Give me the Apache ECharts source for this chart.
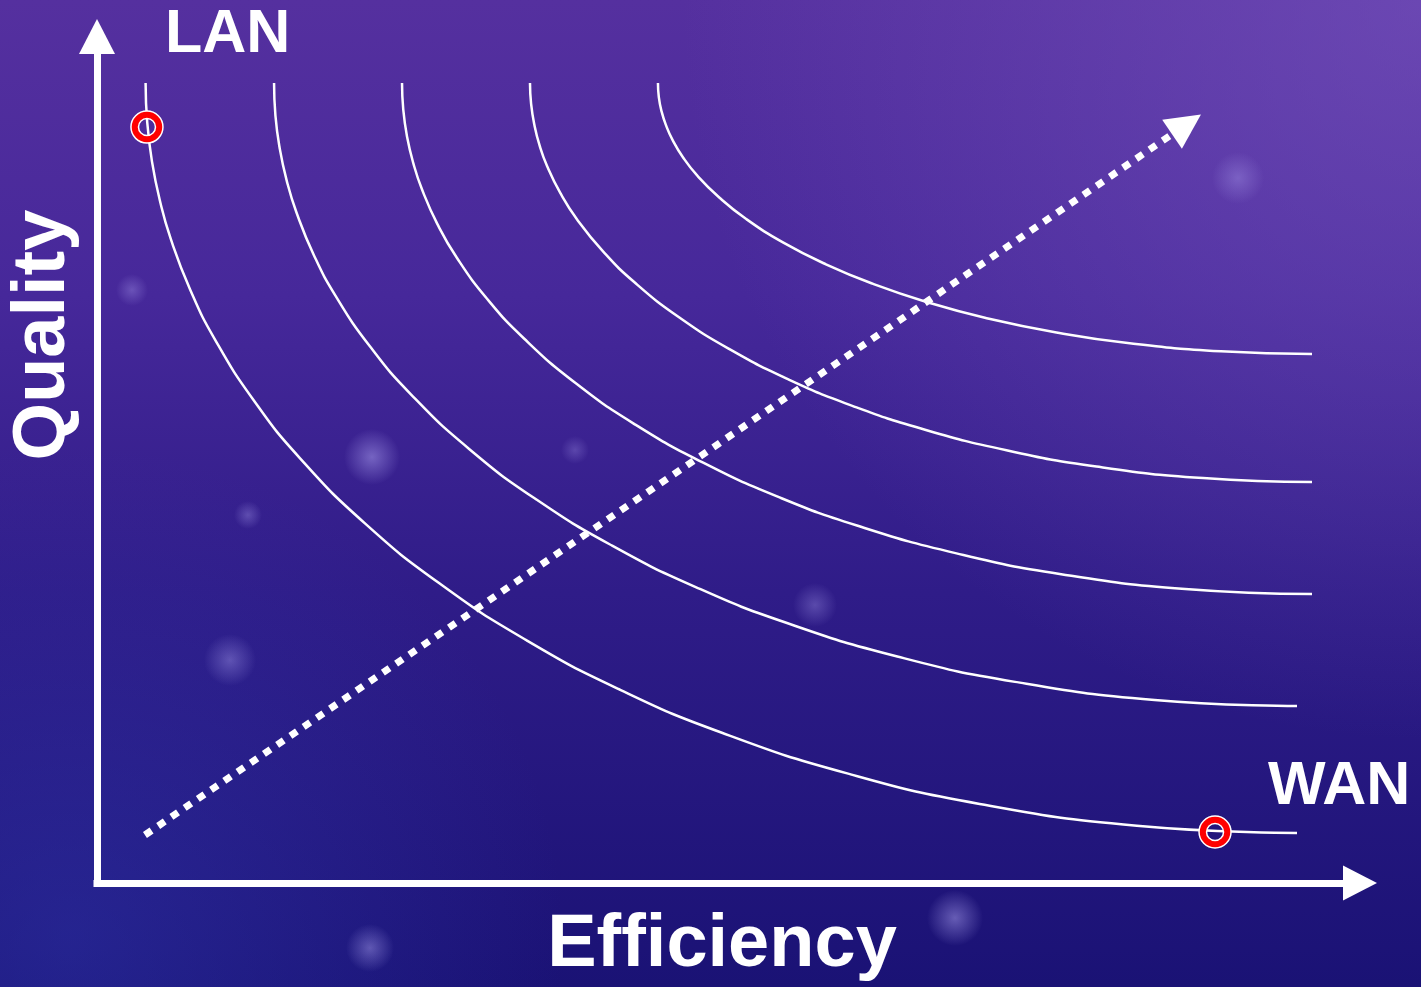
<!DOCTYPE html>
<html>
<head>
<meta charset="utf-8">
<style>
html,body{margin:0;padding:0;background:#3a2390;overflow:hidden;}
#c{width:1421px;height:987px;}
</style>
<script src="https://cdn.jsdelivr.net/npm/echarts@6/dist/echarts.min.js"></script>
</head>
<body>
<div id="c"></div>
<script>
// Indifference curves (Efficiency, Quality)
const curve1 = [[3.90,96.50],[4.03,91.77],[4.41,87.05],[5.04,82.35],[5.92,77.69],[7.48,71.57],[9.47,65.56],[12.56,58.27],[16.28,51.26],[21.55,43.32],[27.64,35.97],[34.48,29.27],[41.99,23.31],[50.10,18.15],[60.21,13.22],[70.84,9.53],[83.45,6.91],[96.31,6.03]];
const curve2 = [[14.21,96.50],[14.32,92.57],[14.66,88.65],[15.22,84.75],[16.01,80.88],[17.39,75.79],[19.16,70.80],[21.90,64.74],[25.21,58.92],[29.89,52.33],[35.30,46.22],[41.38,40.66],[48.05,35.70],[55.26,31.42],[64.23,27.32],[73.68,24.26],[84.88,22.08],[96.31,21.35]];
const curve3 = [[24.48,96.50],[24.58,93.28],[24.88,90.06],[25.38,86.86],[26.08,83.68],[27.31,79.51],[28.88,75.42],[31.32,70.45],[34.27,65.68],[38.43,60.27],[43.24,55.26],[48.65,50.70],[54.58,46.63],[60.99,43.12],[68.98,39.76],[77.38,37.25],[87.34,35.46],[97.51,34.86]];
const curve4 = [[34.75,96.50],[34.84,93.98],[35.10,91.47],[35.52,88.97],[36.12,86.49],[37.18,83.24],[38.53,80.04],[40.63,76.16],[43.16,72.43],[46.74,68.21],[50.87,64.30],[55.52,60.73],[60.62,57.56],[66.13,54.82],[72.99,52.20],[80.21,50.23],[88.77,48.84],[97.51,48.37]];
const curve5 = [[45.02,96.50],[45.09,94.79],[45.31,93.08],[45.67,91.39],[46.17,89.70],[47.05,87.49],[48.18,85.32],[49.94,82.69],[52.05,80.15],[55.05,77.28],[58.50,74.63],[62.39,72.21],[66.66,70.05],[71.26,68.19],[77.00,66.41],[83.04,65.07],[90.20,64.13],[97.51,63.81]];
const lanPoint = [4.01, 91.19];
const wanPoint = [89.73, 6.15];
const trendLine = [[3.85, 5.79], [87.44, 91.50]];
const labelLAN = 'LAN';
const labelWAN = 'WAN';
const axisNameX = 'Efficiency';
const axisNameY = 'Quality';

const chart = echarts.init(document.getElementById('c'), null, {renderer: 'canvas'});
const FONT = '"Liberation Sans", Arial, Helvetica, sans-serif';

function curveSeries(data) {
  return {
    type: 'line', data: data, smooth: 0.5, showSymbol: false, silent: true,
    lineStyle: {color: '#ffffff', width: 2.5}, z: 2,
    emphasis: {disabled: true}
  };
}
function ring(pt, color, size, width, z) {
  return {
    type: 'scatter', data: [pt], symbol: 'circle', symbolSize: size, silent: true, z: z,
    itemStyle: {color: 'rgba(0,0,0,0)', borderColor: color, borderWidth: width, opacity: 1},
    emphasis: {disabled: true}
  };
}
function glow(x, y, r, a) {
  return {
    type: 'circle', shape: {cx: x, cy: y, r: r}, z: -5, silent: true,
    style: {fill: new echarts.graphic.RadialGradient(0.5, 0.5, 0.5, [
      {offset: 0, color: 'rgba(190,180,255,' + a + ')'},
      {offset: 1, color: 'rgba(190,180,255,0)'}
    ])}
  };
}

const option = {
  animation: false,
  backgroundColor: {
    type: 'linear', x: 0, y: 0, x2: 0, y2: 1,
    colorStops: [
      {offset: 0, color: '#55309f'},
      {offset: 0.3, color: '#46289a'},
      {offset: 0.6, color: '#2f1c88'},
      {offset: 1, color: '#1a1275'}
    ]
  },
  grid: {left: 97, right: 78, top: 54, bottom: 104},
  xAxis: {
    type: 'value', min: 0, max: 100,
    splitLine: {show: false}, axisTick: {show: false}, axisLabel: {show: false},
    axisLine: {show: true, onZero: false, symbol: ['none', 'triangle'], symbolSize: [35, 34], symbolOffset: [0, 17],
      lineStyle: {color: '#ffffff', width: 7, cap: 'square'}}
  },
  yAxis: {
    type: 'value', min: 0, max: 100,
    splitLine: {show: false}, axisTick: {show: false}, axisLabel: {show: false},
    axisLine: {show: true, onZero: false, symbol: ['none', 'triangle'], symbolSize: [36, 35], symbolOffset: [0, 17.5],
      lineStyle: {color: '#ffffff', width: 7, cap: 'square'}}
  },
  series: [
    curveSeries(curve1), curveSeries(curve2), curveSeries(curve3), curveSeries(curve4), curveSeries(curve5),
    {
      type: 'line', data: [], silent: true, z: 3,
      markLine: {
        silent: true, animation: false,
        symbol: ['none', 'triangle'], symbolSize: [35, 35],
        label: {show: false},
        lineStyle: {color: '#ffffff', width: 7, type: [8, 8], cap: 'butt', opacity: 1},
        emphasis: {disabled: true},
        data: [[{coord: trendLine[0]}, {coord: trendLine[1]}]]
      }
    },
    ring(lanPoint, '#ffffff', 24.5, 9, 4), ring(lanPoint, '#ff0000', 24.5, 6, 5),
    ring(wanPoint, '#ffffff', 24.5, 9, 4), ring(wanPoint, '#ff0000', 24.5, 6, 5)
  ],
  graphic: [
    {type: 'rect', shape: {x: 0, y: 0, width: 1421, height: 987}, z: -10, silent: true,
      style: {fill: new echarts.graphic.RadialGradient(1, 0, 0.75, [
        {offset: 0, color: 'rgba(125,90,195,0.55)'},
        {offset: 1, color: 'rgba(125,90,195,0)'}
      ])}},
    {type: 'rect', shape: {x: 0, y: 0, width: 1421, height: 987}, z: -9, silent: true,
      style: {fill: new echarts.graphic.RadialGradient(0.05, 0.95, 0.5, [
        {offset: 0, color: 'rgba(50,60,180,0.4)'},
        {offset: 1, color: 'rgba(50,60,180,0)'}
      ])}},
    glow(372, 457, 28, 0.45), glow(230, 660, 26, 0.35), glow(815, 605, 22, 0.3),
    glow(955, 918, 28, 0.45), glow(370, 948, 24, 0.4), glow(132, 290, 16, 0.3),
    glow(1238, 178, 26, 0.3), glow(248, 515, 14, 0.3), glow(575, 450, 14, 0.25),
    {type: 'text', x: 165, y: 35, z: 100, silent: true,
      style: {text: labelLAN, fill: '#ffffff', font: 'bold 61px ' + FONT, align: 'left', verticalAlign: 'middle'}},
    {type: 'text', x: 1268, y: 787, z: 100, silent: true,
      style: {text: labelWAN, fill: '#ffffff', font: 'bold 61px ' + FONT, align: 'left', verticalAlign: 'middle'}},
    {type: 'text', x: 722, y: 946, z: 100, silent: true,
      style: {text: axisNameX, fill: '#ffffff', font: 'bold 74px ' + FONT, align: 'center', verticalAlign: 'middle'}},
    {type: 'text', x: 44, y: 335, rotation: Math.PI / 2, z: 100, silent: true,
      style: {text: axisNameY, fill: '#ffffff', font: 'bold 74px ' + FONT, align: 'center', verticalAlign: 'middle'}}
  ]
};
chart.setOption(option);
</script>
</body>
</html>
